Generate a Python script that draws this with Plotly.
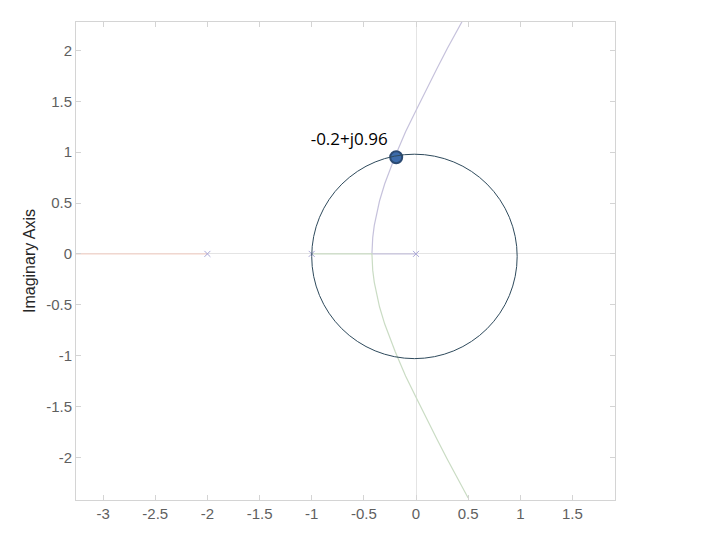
import plotly.graph_objects as go

# Root locus branches
red_x = [-2.0, -3.3]
red_y = [0.0, 0.0]

green_x = [-1.0, -0.4226, -0.415, -0.41, -0.40, -0.35, -0.30, -0.20, -0.10, 0.0, 0.1, 0.2, 0.3, 0.4, 0.5]
green_y = [0.0, 0.0, -0.16, -0.21, -0.28, -0.52, -0.69, -0.96, -1.20, -1.41, -1.62, -1.82, -2.02, -2.21, -2.40]

blue_x = [0.0, -0.4226, -0.415, -0.41, -0.40, -0.35, -0.30, -0.20, -0.10, 0.0, 0.1, 0.2, 0.3, 0.4, 0.45]
blue_y = [0.0, 0.0, 0.16, 0.21, 0.28, 0.52, 0.69, 0.96, 1.20, 1.41, 1.62, 1.82, 2.02, 2.21, 2.30]

pole_x = [-2, -1, 0]
pole_y = [0, 0, 0]

# unit circle bounds
circle_x = [-1.0, 0.97]
circle_y = [-1.03, 0.98]

point_x = [-0.19]
point_y = [0.95]
point_label = "-0.2+j0.96"

x_ticks = [-3, -2.5, -2, -1.5, -1, -0.5, 0, 0.5, 1, 1.5]
y_ticks = [-2, -1.5, -1, -0.5, 0, 0.5, 1, 1.5, 2]

fig = go.Figure()

fig.add_shape(
    type="circle", xref="x", yref="y",
    x0=circle_x[0], x1=circle_x[1], y0=circle_y[0], y1=circle_y[1],
    line=dict(color="#2e4a5c", width=1)
)

fig.add_trace(go.Scatter(x=red_x, y=red_y, mode="lines",
                         line=dict(color="#f3d3ca", width=1.2), hoverinfo="skip"))
fig.add_trace(go.Scatter(x=blue_x, y=blue_y, mode="lines",
                         line=dict(color="#c6c2dc", width=1.2), hoverinfo="skip"))
fig.add_trace(go.Scatter(x=green_x, y=green_y, mode="lines",
                         line=dict(color="#cadcc4", width=1.2), hoverinfo="skip"))

fig.add_trace(go.Scatter(
    x=pole_x, y=pole_y, mode="markers",
    marker=dict(symbol="x-thin", size=6, line=dict(color="#a9a6d6", width=1))
))

fig.add_trace(go.Scatter(
    x=point_x, y=point_y, mode="markers+text",
    text=[point_label], textposition="top left",
    textfont=dict(family="Open Sans", size=17, color="black"),
    marker=dict(size=12, color="#3d6cab", line=dict(color="#2b4a72", width=2))
))

axis_common = dict(
    showline=True, mirror="ticks", linecolor="#d4d4d4", linewidth=1,
    ticks="inside", ticklen=5, tickcolor="#d4d4d4",
    showgrid=False, zeroline=True, zerolinecolor="#e4e4e4", zerolinewidth=1,
    tickfont=dict(family="Liberation Sans", size=15, color="#5f5f5f"),
)

fig.update_xaxes(range=[-3.26, 1.908], tickvals=x_ticks,
                 ticktext=[f"{v:g}" for v in x_ticks], **axis_common)
fig.update_yaxes(range=[-2.42, 2.28], tickvals=y_ticks,
                 ticktext=[f"{v:g}" for v in y_ticks],
                 title=dict(text="Imaginary Axis", standoff=6,
                            font=dict(family="Liberation Sans", size=16, color="#262626")),
                 **axis_common)

fig.update_layout(
    width=720, height=540,
    margin=dict(l=68, r=113, t=14, b=48),
    paper_bgcolor="white", plot_bgcolor="white",
    showlegend=False,
)

fig.write_html("out.html")
